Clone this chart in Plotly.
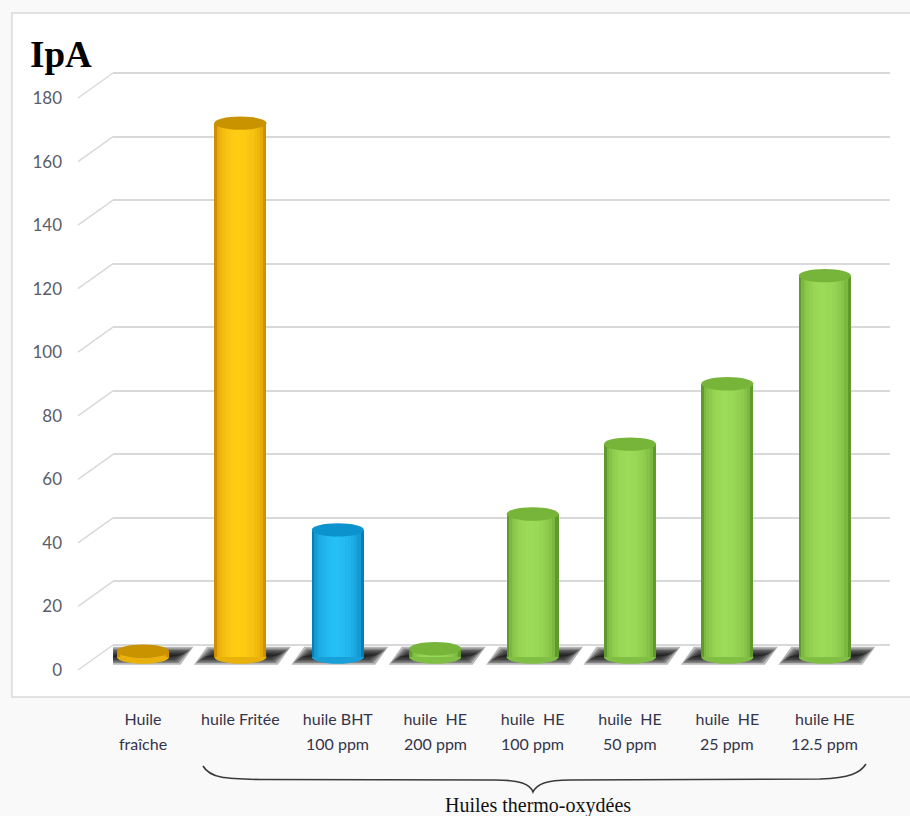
import plotly.graph_objects as go

# ---------------- data ----------------
categories = ["Huile fraîche", "huile Fritée", "huile BHT 100 ppm", "huile HE 200 ppm",
              "huile HE 100 ppm", "huile HE 50 ppm", "huile HE 25 ppm", "huile HE 12.5 ppm"]
label_line1 = ["Huile", "huile Fritée", "huile BHT", "huile  HE", "huile  HE", "huile  HE", "huile  HE", "huile HE"]
label_line2 = ["fraîche", "", "100 ppm", "200 ppm", "100 ppm", "50 ppm", "25 ppm", "12.5 ppm"]
ipa_values = [1.8, 168, 40, 2.6, 45, 67, 86, 120]
y_ticks = [0, 20, 40, 60, 80, 100, 120, 140, 160, 180]
bar_family = ["yellow", "yellow", "blue", "green", "green", "green", "green", "green"]
title_text = "IpA"
group_text = "Huiles thermo-oxydées"

# ---------------- style ----------------
palette = {
    "yellow": {"edge": "#cf8f00", "center": "#ffcc14", "top": "#c99300"},
    "blue":   {"edge": "#087cb4", "center": "#25bff6", "top": "#0c92cc"},
    "green":  {"edge": "#609a2c", "center": "#9cdb58", "top": "#76b43a"},
}

W, H = 910, 816
plot_left, plot_right, plot_top, plot_bottom = 113, 890, 50, 700
back_zero, front_zero, mid_zero = 645, 670, 657
ppu = (645 - 73) / 180.0          # pixels per value unit
x0_px, step_px = 143, 97.4        # first category centre, category spacing
bar_w = 0.535                     # bar width in category units
ell_px = 6.7                      # half-height of the cylinder ellipses (px)
ell = ell_px / ppu


def px(x):
    return x / W


def py(y):
    return 1 - y / H


def yrange(zero_px):
    return [(zero_px - plot_bottom) / ppu, (zero_px - plot_top) / ppu]


def hex2rgb(h):
    h = h.lstrip("#")
    return [int(h[i:i + 2], 16) for i in (0, 2, 4)]


def mix(a, b, t):
    ra, rb = hex2rgb(a), hex2rgb(b)
    return "rgb(%d,%d,%d)" % tuple(round(ra[i] + (rb[i] - ra[i]) * t) for i in range(3))


xs = list(range(len(categories)))
n = len(xs)

fig = go.Figure()

# cylinder bodies (main subplot, mid-depth value axis): overlaid bars of decreasing width
n_layers = 9
for k in range(n_layers):
    w = 1 - k / n_layers
    t = (1 - w * w) ** 0.5
    cols = [mix(palette[f]["edge"], palette[f]["center"], t) for f in bar_family]
    fig.add_trace(go.Bar(
        x=xs, y=ipa_values, base=0, width=bar_w * w,
        offset=-bar_w * w / 2 - 0.03 * (1 - w),
        marker=dict(color=cols, line=dict(width=0)),
        hoverinfo="skip", showlegend=False,
    ))

# invisible traces so the back-wall grid axis and the tick-label axis are drawn
for ax in ("y2", "y3"):
    fig.add_trace(go.Scatter(x=[xs[0]], y=[0], yaxis=ax, mode="markers",
                             marker=dict(opacity=0), hoverinfo="skip", showlegend=False))

shapes = []
# chart border / background
shapes.append(dict(type="rect", xref="paper", yref="paper", x0=px(12), x1=px(940),
                   y0=py(697), y1=py(13), line=dict(color="#d9d9d9", width=1.5),
                   fillcolor="white", layer="below"))

# side-wall connectors from tick labels to back gridlines
for v in y_ticks:
    shapes.append(dict(type="line", xref="paper", yref="y2", x0=px(78), x1=px(plot_left),
                       y0=v - (front_zero - back_zero) / ppu, y1=v,
                       line=dict(color="#d9d9d9", width=1.5), layer="below"))

# soft floor shadows (stacked translucent parallelograms, skewed with perspective)
sx = lambda p: p / step_px
sy = lambda p: p / ppu
for i in xs:
    for g in (1.5, -0.5, -2.5, -4.5, -6.5, -8.5):
        yb = -sy(6.5 + g * 0.8)
        yt = sy(9.0 + g * 0.8)
        path = ("M %f,%f L %f,%f L %f,%f L %f,%f Z" % (
            i - sx(45 + g), yb, i - sx(32 + g), yt, i + sx(49 + g), yt, i + sx(36 + g), yb))
        shapes.append(dict(type="path", xref="x", yref="y", path=path,
                           fillcolor="black", opacity=0.28, line=dict(width=0), layer="between"))

# cylinder bottoms (behind bodies) and tops
for i, v, f in zip(xs, ipa_values, bar_family):
    shapes.append(dict(type="circle", xref="x", yref="y", x0=i - bar_w / 2, x1=i + bar_w / 2,
                       y0=-ell, y1=ell, fillcolor=mix(palette[f]["edge"], palette[f]["center"], 0.55),
                       line=dict(width=0), layer="between"))
    shapes.append(dict(type="circle", xref="x", yref="y", x0=i - bar_w / 2, x1=i + bar_w / 2,
                       y0=v - ell, y1=v + ell, fillcolor=palette[f]["top"],
                       line=dict(width=0), layer="above"))

# curly brace under the thermo-oxidised oils
bx = lambda x: px(x)
by = lambda y: py(y)
brace = ("M {a},{b} C {c},{d} {e},{f} {g},{h} L {i},{j} C {k},{l} {m},{n} {o},{p} "
         "C {q},{r} {s},{t} {u},{v} L {w},{x} C {y},{z} {A},{B} {C},{D}").format(
    a=bx(203), b=by(766), c=bx(210), d=by(778), e=bx(225), f=by(779), g=bx(260), h=by(779.5),
    i=bx(495), j=by(780), k=bx(520), l=by(780), m=bx(530), n=by(784), o=bx(533), p=by(792),
    q=bx(537), r=by(784), s=bx(546), t=by(780), u=bx(570), v=by(780),
    w=bx(820), x=by(779), y=bx(850), z=by(778), A=bx(860), B=by(773), C=bx(866), D=by(764))
shapes.append(dict(type="path", xref="paper", yref="paper", path=brace,
                   line=dict(color="#3a3a3a", width=1.6)))

label_font = dict(family="Lato, Open Sans, sans-serif", size=16, color="#34344a")

annotations = [
    dict(text="<b>%s</b>" % title_text, xref="paper", yref="paper", x=px(28), y=py(55),
         xanchor="left", yanchor="middle", showarrow=False,
         font=dict(family="Liberation Serif, Times New Roman, serif", size=37, color="black")),
    dict(text=group_text, xref="paper", yref="paper", x=px(538), y=py(805),
         xanchor="center", yanchor="middle", showarrow=False,
         font=dict(family="Liberation Serif, Times New Roman, serif", size=20, color="#111111")),
]
# second line of the category labels
for i, t2 in zip(xs, label_line2):
    if t2:
        annotations.append(dict(text=t2, xref="x", yref="paper", x=i, y=py(743),
                                xanchor="center", yanchor="middle", showarrow=False,
                                font=label_font))

xr = [(plot_left - x0_px) / step_px, (plot_right - x0_px) / step_px]

fig.update_layout(
    width=W, height=H,
    margin=dict(l=0, r=0, t=0, b=0),
    paper_bgcolor="#f9f9f9", plot_bgcolor="rgba(0,0,0,0)",
    barmode="overlay", bargap=0,
    showlegend=False,
    shapes=shapes, annotations=annotations,
    xaxis=dict(domain=[px(plot_left), px(plot_right)], range=xr, tickmode="array",
               tickvals=xs, ticktext=label_line1, showgrid=False, zeroline=False,
               showline=False, ticks="", tickfont=label_font, ticklabelstandoff=8),
    # main value axis at the depth of the cylinders
    yaxis=dict(domain=[py(plot_bottom), py(plot_top)], range=yrange(mid_zero),
               showgrid=False, zeroline=False, showline=False, ticks="",
               showticklabels=False),
    # back wall: gridlines
    yaxis2=dict(overlaying="y", range=yrange(back_zero), tickmode="array", tickvals=y_ticks,
                showticklabels=False, showgrid=True, gridcolor="#d9d9d9", gridwidth=1.5,
                zeroline=False, showline=False, ticks=""),
    # front edge: tick labels
    yaxis3=dict(overlaying="y", anchor="free", position=px(62), side="left",
                range=yrange(front_zero), tickmode="array", tickvals=y_ticks,
                showgrid=False, zeroline=False, showline=False, ticks="",
                tickfont=dict(family="Lato, Open Sans, sans-serif", size=17, color="#5a5d6a")),
)

fig.write_html("out.html")
